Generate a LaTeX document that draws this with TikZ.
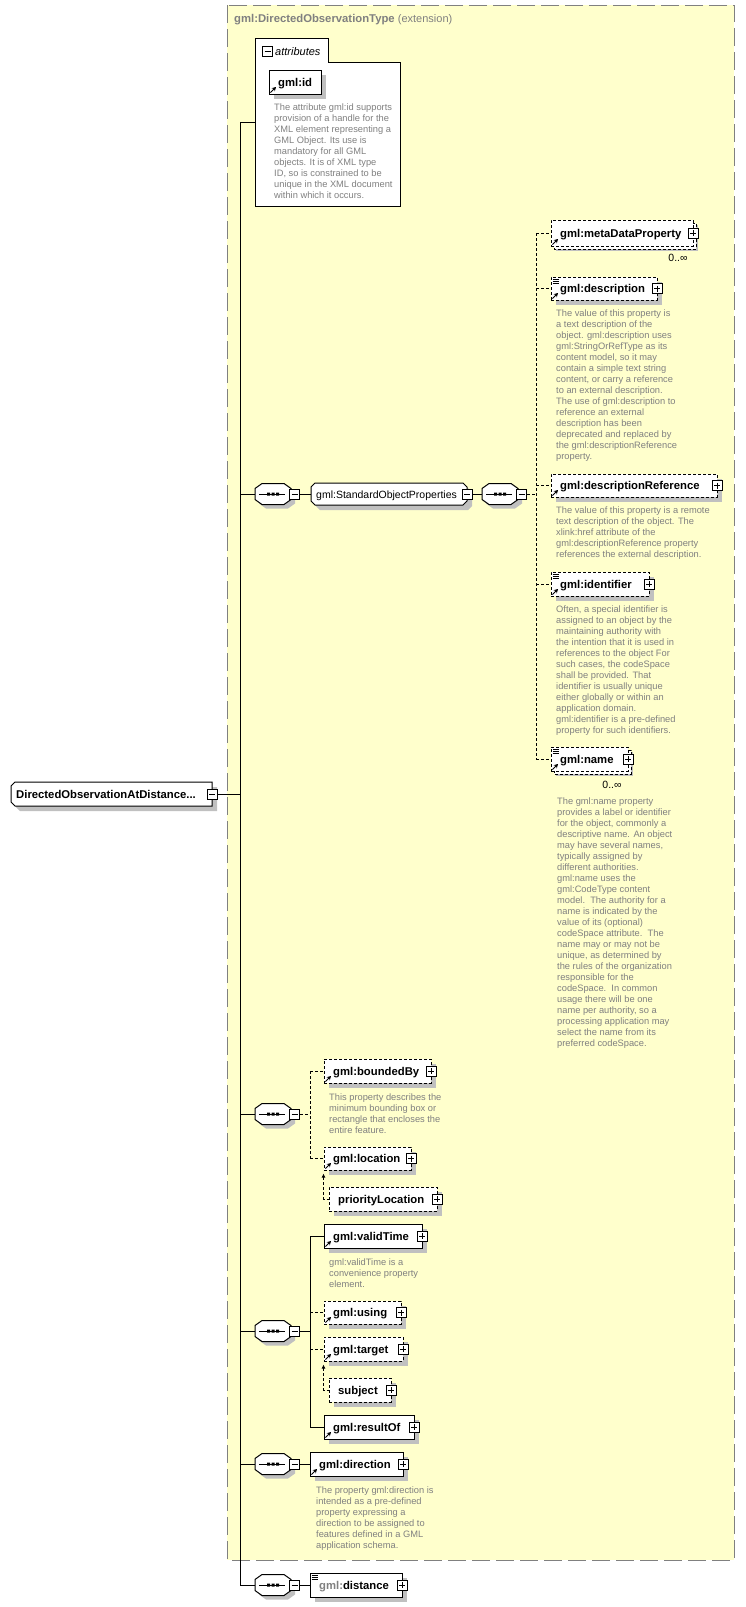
\documentclass[tikz,border=0pt]{standalone}
\usepackage{fontspec}
\setmainfont{Liberation Sans}
\usetikzlibrary{arrows.meta}
\definecolor{ybg}{RGB}{255,255,204}
\definecolor{dgray}{RGB}{128,128,128}
\definecolor{shd}{RGB}{192,192,192}
\definecolor{txtgray}{RGB}{128,128,128}
\tikzset{
  ln/.style={line width=1pt},
  dsh/.style={line width=1pt, dash pattern=on 3pt off 2pt},
  elbox/.style={draw, fill=white, line width=1pt, inner sep=0pt},
  lbl/.style={inner sep=0pt, font=\fontsize{11.3}{13}\selectfont\bfseries},
  descr/.style={inner sep=0pt, align=left, text=txtgray, font=\fontsize{9.3}{11}\selectfont, anchor=base west},
  occ/.style={inner sep=0pt, font=\fontsize{10.5}{12}\selectfont, anchor=base},
  pmbox/.style={draw, fill=white, line width=1pt, minimum size=10pt, inner sep=0pt},
  minusbox/.style={pmbox, path picture={\draw[line width=1pt] ([xshift=2pt]path picture bounding box.west) -- ([xshift=-2pt]path picture bounding box.east);}},
  plusbox/.style={pmbox, path picture={\draw[line width=1pt] ([xshift=2pt]path picture bounding box.west) -- ([xshift=-2pt]path picture bounding box.east); \draw[line width=1pt] ([yshift=-2pt]path picture bounding box.north) -- ([yshift=2pt]path picture bounding box.south);}},
  subst/.style={dsh, {Latex[length=4pt,width=4pt]}-},
}
\newcommand{\xshd}[4]{\fill[shd] (#1+5,#2+5) rectangle (#3+5,#4+5);}
\newcommand{\xmul}[5]{\draw[#5,fill=white] (#1+3,#2+3) rectangle (#3+3,#4+3);}
\newcommand{\xel}[7]{%
  \node[elbox,#6,minimum width={#4-#2},minimum height={#5-#3}] (#1) at ({(#2+#4)/2},{(#3+#5)/2}) {};
  \node[lbl,anchor=base west] (#1l) at ({#2+9},{(#3+#5)/2+4}) {#7};}
\newcommand{\xplus}[3]{\node[plusbox] (#1) at (#2,#3) {};}
\newcommand{\xarr}[2]{\draw[line width=1pt,-{Stealth[length=4pt,width=4.5pt]}] (#1+1.5,#2-1.5) -- (#1+7,#2-7);}
\newcommand{\xeq}[2]{\draw[line width=0.8pt] (#1+1.5,#2+2) -- ++(6,0) (#1+1.5,#2+4) -- ++(6,0) (#1+1.5,#2+6) -- ++(6,0);}
\newcommand{\xseq}[3]{%
  \fill[shd] (#2-14,#3-1.5) -- (#2-7,#3-6.5) -- (#2+15,#3-6.5) -- (#2+22,#3-1.5) -- (#2+22,#3+9.5) -- (#2+15,#3+14.5) -- (#2-7,#3+14.5) -- (#2-14,#3+9.5) -- cycle;
  \draw[ln,fill=white] (#2-18,#3-5.5) -- (#2-11,#3-10.5) -- (#2+11,#3-10.5) -- (#2+18,#3-5.5) -- (#2+18,#3+5.5) -- (#2+11,#3+10.5) -- (#2-11,#3+10.5) -- (#2-18,#3+5.5) -- cycle;
  \node[inner sep=0pt,minimum width=36pt,minimum height=21pt] (#1) at (#2,#3) {};
  \draw[ln] (#2-14,#3) -- (#2+12,#3);
  \fill (#2-6,#3-1.5) rectangle ++(3,3) (#2-1.5,#3-1.5) rectangle ++(3,3) (#2+3,#3-1.5) rectangle ++(3,3);
  \node[minusbox] (#1m) at (#2+21.5,#3) {};}
\begin{document}
\begin{tikzpicture}[x=1pt,y=-1pt]
\useasboundingbox (0,0) rectangle (745,1607);
% extension background
\draw[fill=ybg, draw=dgray, line width=1pt, dash pattern=on 18pt off 6pt] (227,5) rectangle (734,1560);
\node[anchor=base west, inner sep=0pt, text=dgray] (title) at (234,22) {\fontsize{11.3}{13}\selectfont\bfseries gml:DirectedObservationType\ \mdseries\fontsize{11}{13}\selectfont(extension)};

% root
\fill[shd] (20,787) -- (217,787) -- (217,811) -- (20,811) -- (16,807) -- (16,791) -- cycle;
\draw[ln,fill=white] (15,782) -- (212,782) -- (212,806) -- (15,806) -- (11,802) -- (11,786) -- cycle;
\node[inner sep=0pt,minimum width=201pt,minimum height=24pt] (root) at (111.5,794) {};
\node[lbl,anchor=base west] (rootl) at (16,798) {DirectedObservationAtDistance...};
\node[minusbox] (rootm) at (212,794) {};

% attributes
\draw[ln,fill=white] (255,38) -- (328,38) -- (328,62) -- (400,62) -- (400,206) -- (255,206) -- cycle;
\coordinate (attrW) at (255,122);
\node[minusbox] (attrm) at (267.5,51) {};
\node[inner sep=0pt, anchor=base west, font=\fontsize{11}{13}\selectfont\itshape] (attrl) at (275,55) {attributes};
\xshd{269}{70}{321}{94}
\xel{gid}{269}{70}{321}{94}{solid}{gml:id}
\xarr{269}{94}
\node[descr] (gidd) at (274,198) {The attribute gml:id supports\\provision of a handle for the\\XML element representing a\\GML Object. Its use is\\mandatory for all GML\\objects. It is of XML type\\ID, so is constrained to be\\unique in the XML document\\within which it occurs.};

% sequence 1 / standard object properties
\xseq{seqa}{273}{494}
\fill[shd] (320,488) -- (468,488) -- (472,492) -- (472,506) -- (468,510) -- (320,510) -- (316,506) -- (316,492) -- cycle;
\draw[ln,fill=white] (315,483) -- (463,483) -- (467,487) -- (467,501) -- (463,505) -- (315,505) -- (311,501) -- (311,487) -- cycle;
\node[inner sep=0pt,minimum width=156pt,minimum height=22pt] (sop) at (389,494) {};
\node[anchor=base west,inner sep=0pt,font=\fontsize{10.5}{12}\selectfont] (sopl) at (316,498) {gml:StandardObjectProperties};
\node[minusbox] (sopm) at (467,494) {};
\xseq{seqb}{500}{494}

% metaDataProperty
\xshd{551}{220}{693}{246}
\xmul{551}{220}{693}{246}{dsh}
\xel{md}{551}{220}{693}{246}{dsh}{gml:metaDataProperty}
\xarr{551}{246}
\xplus{mdp}{693}{233}
\node[occ] (mdo) at (678,261) {0..∞};

% description
\xshd{551}{277}{657}{300}
\xel{de}{551}{277}{657}{300}{dsh}{gml:description}
\xeq{551}{277}
\xarr{551}{300}
\xplus{dep}{657}{288.5}
\node[descr] (ded) at (556,459) {The value of this property is\\a text description of the\\object. gml:description uses\\gml:StringOrRefType as its\\content model, so it may\\contain a simple text string\\content, or carry a reference\\to an external description.\\The use of gml:description to\\reference an external\\description has been\\deprecated and replaced by\\the gml:descriptionReference\\property.};

% descriptionReference
\xshd{551}{474}{717}{497}
\xel{dr}{551}{474}{717}{497}{dsh}{gml:descriptionReference}
\xarr{551}{497}
\xplus{drp}{717}{485.5}
\node[descr] (drd) at (556,557) {The value of this property is a remote\\text description of the object. The\\xlink:href attribute of the\\gml:descriptionReference property\\references the external description.};

% identifier
\xshd{551}{572}{649}{596}
\xel{idn}{551}{572}{649}{596}{dsh}{gml:identifier}
\xeq{551}{572}
\xarr{551}{596}
\xplus{idnp}{649}{584}
\node[descr] (idnd) at (556,733) {Often, a special identifier is\\assigned to an object by the\\maintaining authority with\\the intention that it is used in\\references to the object For\\such cases, the codeSpace\\shall be provided. That\\identifier is usually unique\\either globally or within an\\application domain.\\gml:identifier is a pre-defined\\property for such identifiers.};

% name
\xshd{551}{747}{628}{771}
\xmul{551}{747}{628}{771}{dsh}
\xel{nm}{551}{747}{628}{771}{dsh}{gml:name}
\xeq{551}{747}
\xarr{551}{771}
\xplus{nmp}{628}{759}
\node[occ] (nmo) at (612,788) {0..∞};
\node[descr] (nmd) at (557,1046) {The gml:name property\\provides a label or identifier\\for the object, commonly a\\descriptive name. An object\\may have several names,\\typically assigned by\\different authorities.\\gml:name uses the\\gml:CodeType content\\model.\ \ The authority for a\\name is indicated by the\\value of its (optional)\\codeSpace attribute.\ \ The\\name may or may not be\\unique, as determined by\\the rules of the organization\\responsible for the\\codeSpace.\ \ In common\\usage there will be one\\name per authority, so a\\processing application may\\select the name from its\\preferred codeSpace.};

% sequence 3
\xseq{seqc}{273}{1114}
\xshd{324}{1059}{431}{1083}
\xel{bb}{324}{1059}{431}{1083}{dsh}{gml:boundedBy}
\xarr{324}{1083}
\xplus{bbp}{431}{1071}
\node[descr] (bbd) at (329,1133) {This property describes the\\minimum bounding box or\\rectangle that encloses the\\entire feature.};
\xshd{324}{1147}{411}{1170}
\xel{loc}{324}{1147}{411}{1170}{dsh}{gml:location}
\xarr{324}{1170}
\xplus{locp}{411}{1158.5}
\xshd{329}{1187}{437}{1211}
\xel{ploc}{329}{1187}{437}{1211}{dsh}{priorityLocation}
\xplus{plocp}{437}{1199}

% sequence 4
\xseq{seqd}{273}{1331}
\xshd{324}{1224}{422}{1248}
\xel{vt}{324}{1224}{422}{1248}{solid}{gml:validTime}
\xarr{324}{1248}
\xplus{vtp}{422}{1236}
\node[descr] (vtd) at (329,1287) {gml:validTime is a\\convenience property\\element.};
\xshd{324}{1301}{401}{1324}
\xel{us}{324}{1301}{401}{1324}{dsh}{gml:using}
\xarr{324}{1324}
\xplus{usp}{401}{1312.5}
\xshd{324}{1337}{403}{1361}
\xel{tg}{324}{1337}{403}{1361}{dsh}{gml:target}
\xarr{324}{1361}
\xplus{tgp}{403}{1349}
\xshd{329}{1378}{391}{1402}
\xel{sb}{329}{1378}{391}{1402}{dsh}{subject}
\xplus{sbp}{391}{1390}
\xshd{324}{1415}{414}{1439}
\xel{ro}{324}{1415}{414}{1439}{solid}{gml:resultOf}
\xarr{324}{1439}
\xplus{rop}{414}{1427}

% sequence 5
\xseq{seqe}{273}{1464}
\xshd{310}{1452}{403}{1476}
\xel{dir}{310}{1452}{403}{1476}{solid}{gml:direction}
\xarr{310}{1476}
\xplus{dirp}{403}{1464}
\node[descr] (dird) at (316,1548) {The property gml:direction is\\intended as a pre-defined\\property expressing a\\direction to be assigned to\\features defined in a GML\\application schema.};

% sequence 6
\xseq{seqf}{273}{1585}
\xshd{310}{1573}{402}{1597}
\xel{dist}{310}{1573}{402}{1597}{solid}{{\color{dgray}gml:}distance}
\xeq{310}{1573}
\xplus{distp}{402}{1585}

% connectors
\coordinate (mv) at (240,794);
\draw[ln] (rootm.east) -- (mv);
\draw[ln] (attrW) -- (attrW -| mv) -- (seqf.west -| mv) -- (seqf.west);
\draw[ln] (seqa.west -| mv) -- (seqa.west);
\draw[ln] (seqc.west -| mv) -- (seqc.west);
\draw[ln] (seqd.west -| mv) -- (seqd.west);
\draw[ln] (seqe.west -| mv) -- (seqe.west);
\draw[ln] (seqam.east) -- (sop.west);
\draw[ln] (sopm.east) -- (seqb.west);
\coordinate (vb) at (536,494);
\draw[dsh] (seqbm.east) -- (vb);
\draw[dsh] (md.west -| vb) -- (nm.west -| vb);
\draw[dsh] (md.west -| vb) -- (md.west);
\draw[dsh] (de.west -| vb) -- (de.west);
\draw[dsh] (dr.west -| vb) -- (dr.west);
\draw[dsh] (idn.west -| vb) -- (idn.west);
\draw[dsh] (nm.west -| vb) -- (nm.west);
\coordinate (vc) at (310,1114);
\draw[dsh] (seqcm.east) -- (vc);
\draw[dsh] (bb.west -| vc) -- (loc.west -| vc);
\draw[dsh] (bb.west -| vc) -- (bb.west);
\draw[dsh] (loc.west -| vc) -- (loc.west);
\draw[subst] ([yshift=-3pt]loc.south west) |- (ploc.west);
\coordinate (vd) at (310,1331);
\draw[ln] (seqdm.east) -- (vd);
\draw[ln] (vt.west -| vd) -- (ro.west -| vd);
\draw[ln] (vt.west -| vd) -- (vt.west);
\draw[ln] (ro.west -| vd) -- (ro.west);
\draw[dsh] (us.west -| vd) -- (us.west);
\draw[dsh] (tg.west -| vd) -- (tg.west);
\draw[subst] ([yshift=-3pt]tg.south west) |- (sb.west);
\draw[ln] (seqem.east) -- (dir.west);
\draw[ln] (seqfm.east) -- (dist.west);
\end{tikzpicture}
\end{document}
